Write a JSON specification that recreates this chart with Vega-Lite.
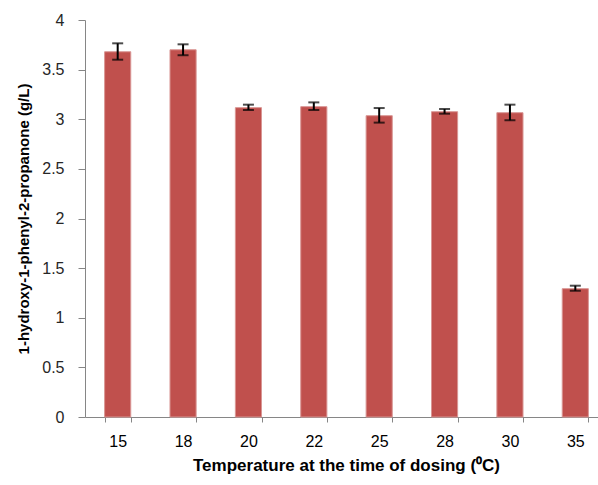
{
  "$schema": "https://vega.github.io/schema/vega-lite/v6.json",
  "autosize": {"type": "none"},
  "width": 513,
  "height": 397,
  "padding": {"left": 85, "top": 20, "right": 0, "bottom": 68},
  "background": "white",
  "config": {
    "view": {"stroke": null},
    "font": "Liberation Sans"
  },
  "data": {
    "values": [
      {"t": "15", "value": 3.68, "lo": 3.60, "hi": 3.765},
      {"t": "18", "value": 3.70, "lo": 3.645, "hi": 3.755},
      {"t": "20", "value": 3.117, "lo": 3.093, "hi": 3.147},
      {"t": "22", "value": 3.127, "lo": 3.093, "hi": 3.17},
      {"t": "25", "value": 3.036, "lo": 2.966, "hi": 3.113},
      {"t": "28", "value": 3.076, "lo": 3.056, "hi": 3.103},
      {"t": "30", "value": 3.066, "lo": 2.99, "hi": 3.147},
      {"t": "35", "value": 1.293, "lo": 1.272, "hi": 1.323}
    ]
  },
  "encoding": {
    "x": {
      "field": "t",
      "type": "ordinal",
      "sort": null,
      "scale": {"range": [0, 523], "paddingInner": 0.6, "paddingOuter": 0.3},
      "axis": {
        "title": "Temperature at the time of dosing (⁰C)",
        "labelAngle": 0,
        "labelFontSize": 16,
        "labelColor": "#000000",
        "labelPadding": 11,
        "tickBand": "extent",
        "tickSize": 5,
        "tickColor": "#868686",
        "domainColor": "#868686",
        "titleFontSize": 17,
        "titleFontWeight": "bold",
        "titleColor": "#000000",
        "titlePadding": 8,
        "titleX": 261
      }
    }
  },
  "layer": [
    {
      "mark": {"type": "bar", "color": "#C0504D", "stroke": "#D99694", "strokeWidth": 1},
      "encoding": {
        "y": {
          "field": "value",
          "type": "quantitative",
          "scale": {"domain": [0, 4], "nice": false},
          "axis": {
            "title": "1-hydroxy-1-phenyl-2-propanone  (g/L)",
            "values": [0, 0.5, 1, 1.5, 2, 2.5, 3, 3.5, 4],
            "format": "~g",
            "grid": false,
            "labelFontSize": 16,
            "labelColor": "#262626",
            "labelPadding": 14,
            "tickSize": 7,
            "tickColor": "#868686",
            "domainColor": "#868686",
            "titleFontSize": 15,
            "titleFontWeight": "bold",
            "titleColor": "#000000",
            "titlePadding": 10
          }
        }
      }
    },
    {
      "mark": {"type": "rule", "color": "#000000", "strokeWidth": 2},
      "encoding": {
        "y": {"field": "lo", "type": "quantitative"},
        "y2": {"field": "hi"}
      }
    },
    {
      "mark": {"type": "tick", "color": "#000000", "thickness": 2, "size": 11},
      "encoding": {
        "y": {"field": "lo", "type": "quantitative"}
      }
    },
    {
      "mark": {"type": "tick", "color": "#000000", "thickness": 2, "size": 11},
      "encoding": {
        "y": {"field": "hi", "type": "quantitative"}
      }
    }
  ]
}
